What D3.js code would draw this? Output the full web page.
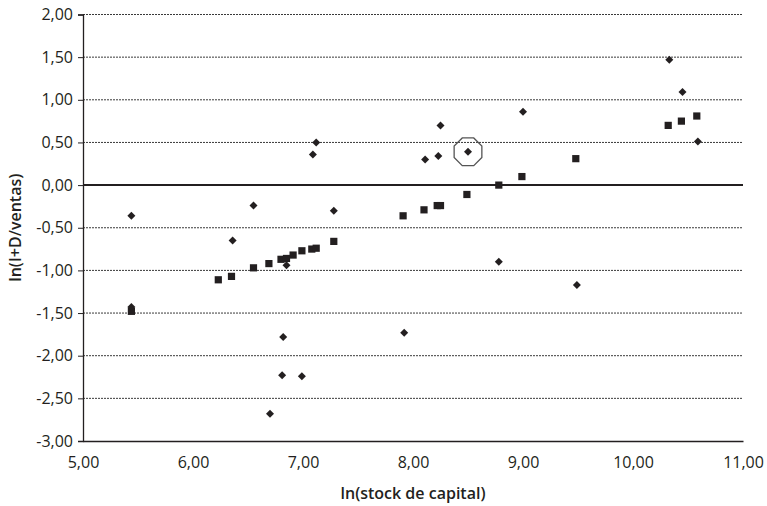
<!DOCTYPE html>
<html>
<head>
  <meta charset="utf-8">
  <title>ln(I+D/ventas) vs ln(stock de capital)</title>
  <script src="https://d3js.org/d3.v7.min.js"></script>
  <style>
    body { margin: 0; background: #fff; }
    text { font-family: "Open Sans", "Noto Sans", sans-serif; fill: #231f20; }
  </style>
</head>
<body>
  <div id="chart"></div>
  <script>
    // series 1: squares (fitted values)
    const squareX = [5.44, 6.23, 6.35, 6.55, 6.69, 6.80, 6.85, 6.91, 6.99, 7.08, 7.12, 7.28,
                     7.91, 8.10, 8.22, 8.25, 8.49, 8.78, 8.99, 9.48, 10.32, 10.44, 10.58];
    const squareY = [-1.48, -1.11, -1.07, -0.97, -0.92, -0.87, -0.86, -0.82, -0.77, -0.75, -0.74, -0.66,
                     -0.36, -0.29, -0.24, -0.24, -0.11, 0.00, 0.10, 0.31, 0.70, 0.75, 0.81];

    // series 2: diamonds (observed values)
    const diamondX = [5.44, 5.44, 6.36, 6.55, 6.70, 6.81, 6.82, 6.85, 6.99, 7.09, 7.12, 7.28,
                      7.92, 8.11, 8.23, 8.25, 8.50, 8.78, 9.00, 9.49, 10.33, 10.45, 10.59];
    const diamondY = [-0.36, -1.43, -0.65, -0.24, -2.68, -2.23, -1.78, -0.94, -2.24, 0.36, 0.50, -0.30,
                      -1.73, 0.30, 0.34, 0.70, 0.39, -0.90, 0.86, -1.17, 1.47, 1.09, 0.51];

    // highlighted observation
    const highlight = {x: 8.50, y: 0.39};

    const xTicks = [5, 6, 7, 8, 9, 10, 11];
    const yTicks = [2, 1.5, 1, 0.5, 0, -0.5, -1, -1.5, -2, -2.5, -3];

    const width = 767, height = 506;
    const margin = {top: 14.5, right: 24, bottom: 65, left: 83};
    const innerW = width - margin.left - margin.right,
          innerH = height - margin.top - margin.bottom;

    const locale = d3.formatLocale({decimal: ",", thousands: ".", grouping: [3], currency: ["", ""], minus: "-"});
    const fmt = locale.format(".2f");

    const svg = d3.select("#chart").append("svg")
      .attr("width", width)
      .attr("height", height);

    const g = svg.append("g")
      .attr("transform", `translate(${margin.left},${margin.top})`);

    const x = d3.scaleLinear().domain([5, 11]).range([0, innerW]);
    const y = d3.scaleLinear().domain([-3, 2]).range([innerH, 0]);

    // dotted grid lines
    g.append("g")
      .selectAll("line")
      .data(yTicks.filter(d => d !== 0 && d !== -3))
      .enter().append("line")
      .attr("x1", 0).attr("x2", innerW)
      .attr("y1", d => y(d)).attr("y2", d => y(d))
      .attr("stroke", "#3a3a3a")
      .attr("stroke-width", 1)
      .attr("stroke-dasharray", "2,1");

    // zero line
    g.append("line")
      .attr("x1", 0).attr("x2", innerW)
      .attr("y1", y(0)).attr("y2", y(0))
      .attr("stroke", "#231f20")
      .attr("stroke-width", 2);

    // Y axis
    const yAxis = g.append("g")
      .call(d3.axisLeft(y).tickValues(yTicks).tickFormat(fmt).tickSize(5).tickPadding(5));
    yAxis.select(".domain").attr("stroke", "#231f20").attr("stroke-width", 1.3);
    yAxis.selectAll(".tick line").attr("stroke", "#231f20");
    yAxis.selectAll(".tick text").style("font-size", "16px").attr("fill", "#231f20");

    // X axis
    const xAxis = g.append("g")
      .attr("transform", `translate(0,${innerH})`)
      .call(d3.axisBottom(x).tickValues(xTicks).tickFormat(fmt).tickSize(0).tickPadding(16));
    xAxis.select(".domain").attr("stroke", "#231f20").attr("stroke-width", 1.3);
    xAxis.selectAll(".tick text").style("font-size", "16px").attr("fill", "#231f20");

    // squares
    g.append("g")
      .selectAll("path")
      .data(d3.range(squareX.length))
      .enter().append("path")
      .attr("d", d3.symbol().type(d3.symbolSquare).size(52))
      .attr("transform", i => `translate(${x(squareX[i])},${y(squareY[i])})`)
      .attr("fill", "#231f20");

    // diamonds
    const diamond = {
      draw(ctx, size) {
        const r = Math.sqrt(size) / 2;
        ctx.moveTo(0, -r); ctx.lineTo(r, 0); ctx.lineTo(0, r); ctx.lineTo(-r, 0); ctx.closePath();
      }
    };
    g.append("g")
      .selectAll("path")
      .data(d3.range(diamondX.length))
      .enter().append("path")
      .attr("d", d3.symbol().type(diamond).size(64))
      .attr("transform", i => `translate(${x(diamondX[i])},${y(diamondY[i])})`)
      .attr("fill", "#231f20");

    // octagon around highlighted point
    const octR = 15;
    const octPts = d3.range(8).map(k => {
      const a = Math.PI / 8 + k * Math.PI / 4;
      return [octR * Math.cos(a), octR * Math.sin(a)];
    });
    g.append("polygon")
      .attr("points", octPts.map(p => p.join(",")).join(" "))
      .attr("transform", `translate(${x(highlight.x)},${y(highlight.y)})`)
      .attr("fill", "none")
      .attr("stroke", "#555")
      .attr("stroke-width", 1.3);

    // axis titles
    svg.append("text")
      .attr("x", margin.left + innerW / 2)
      .attr("y", 499)
      .attr("text-anchor", "middle")
      .style("font-size", "16px")
      .style("font-weight", "600")
      .text("ln(stock de capital)");

    svg.append("text")
      .attr("transform", `translate(21,${margin.top + innerH / 2}) rotate(-90)`)
      .attr("text-anchor", "middle")
      .style("font-size", "16px")
      .style("font-weight", "600")
      .text("ln(I+D/ventas)");
  </script>
</body>
</html>
